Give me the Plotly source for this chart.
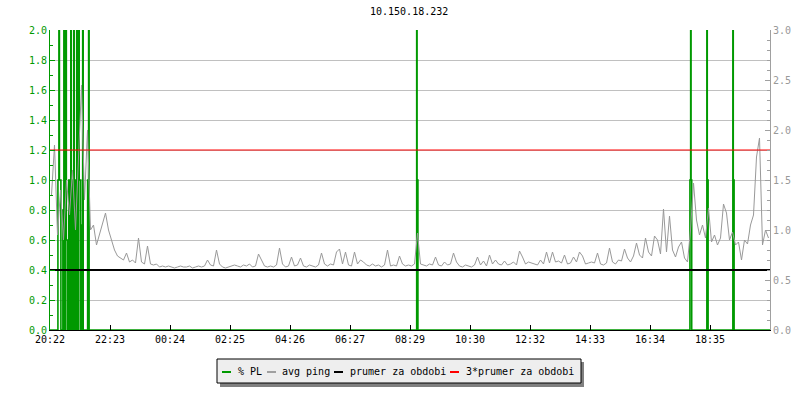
import numpy as np
import plotly.graph_objects as go

# ---------------- data ----------------
chart_title = "10.150.18.232"
x_tick_labels = ["20:22", "22:23", "00:24", "02:25", "04:26", "06:27",
                 "08:29", "10:30", "12:32", "14:33", "16:34", "18:35"]
span_minutes = 1454          # 20:22 -> ~20:36 next day
tick_step = span_minutes / 12

# average ping (right axis), one sample every ~6 minutes
ping_ms = [
    1.35, 1.85, 0.95, 1.40, 0.90, 1.50, 1.15, 1.60, 1.00, 1.75, 2.45, 1.30, 2.00, 1.00,
    1.05, 0.85, 0.95, 1.05, 1.17, 1.00, 0.90, 0.80, 0.74, 0.72, 0.70, 0.77, 0.68, 0.70,
    0.67, 0.92, 0.68, 0.66, 0.84, 0.66, 0.65, 0.66, 0.63, 0.64, 0.63, 0.64, 0.63, 0.62,
    0.63, 0.64, 0.63, 0.63, 0.64, 0.62, 0.63, 0.64, 0.63, 0.64, 0.70, 0.65, 0.64, 0.80,
    0.66, 0.63, 0.62, 0.63, 0.64, 0.65, 0.64, 0.63, 0.65, 0.64, 0.66, 0.63, 0.64, 0.76,
    0.70, 0.64, 0.63, 0.64, 0.63, 0.65, 0.82, 0.66, 0.63, 0.64, 0.73, 0.64, 0.65, 0.72,
    0.64, 0.63, 0.65, 0.64, 0.63, 0.65, 0.77, 0.66, 0.64, 0.66, 0.65, 0.78, 0.81, 0.66,
    0.78, 0.65, 0.64, 0.78, 0.66, 0.70, 0.68, 0.65, 0.64, 0.66, 0.64, 0.65, 0.63, 0.65,
    0.80, 0.64, 0.65, 0.64, 0.74, 0.66, 0.64, 0.65, 0.64, 0.66, 0.97, 0.66, 0.65, 0.64,
    0.66, 0.65, 0.73, 0.65, 0.64, 0.68, 0.65, 0.66, 0.77, 0.68, 0.64, 0.63, 0.65, 0.64,
    0.63, 0.65, 0.73, 0.65, 0.69, 0.64, 0.75, 0.66, 0.70, 0.66, 0.65, 0.69, 0.65, 0.66,
    0.68, 0.65, 0.79, 0.73, 0.66, 0.68, 0.67, 0.66, 0.65, 0.70, 0.66, 0.78, 0.67, 0.78,
    0.68, 0.69, 0.67, 0.75, 0.66, 0.67, 0.73, 0.68, 0.78, 0.74, 0.66, 0.67, 0.68, 0.67,
    0.77, 0.66, 0.65, 0.67, 0.82, 0.68, 0.66, 0.70, 0.69, 0.81, 0.72, 0.68, 0.74, 0.87,
    0.75, 0.72, 0.92, 0.78, 0.74, 0.94, 0.90, 0.76, 1.21, 0.78, 1.14, 0.80, 0.73, 0.83,
    0.88, 0.72, 0.68, 1.00, 1.47, 1.10, 0.95, 1.05, 0.92, 1.22, 0.88, 0.95, 0.85, 0.92,
    1.26, 1.17, 0.90, 0.98, 0.85, 0.88, 0.70, 0.90, 0.86, 1.05, 1.15, 1.73, 1.92, 0.85,
    1.00, 0.92,
]

# packet loss (left axis), step changes: minute from start -> % value
pl_minutes = [0, 16, 18, 19, 22, 26, 28, 29, 32, 33, 36, 38, 40, 42, 43, 44, 46, 48, 49,
              52, 54, 55, 58, 59, 62, 64, 66, 67, 76, 78, 79,
              740.5, 741.3, 743,
              1292.3, 1293.8, 1294.6, 1295.9,
              1326.5, 1327.3, 1329,
              1379, 1379.8, 1381.5,
              1454]
pl_percent = [0, 1, 3, 1, 0, 0.8, 3, 0, 3, 0.6, 0, 1, 0, 3, 0.5, 0, 1, 3, 0,
              1, 3, 0, 3, 1, 0, 0.7, 3, 0, 1, 3, 0,
              3, 1, 0,
              1, 3, 1, 0,
              3, 1, 0,
              3, 1, 0,
              0]

avg_ping = 0.6   # "prumer za obdobi"

# ---------------- colours / helpers ----------------
GREEN = "#009900"
GRAY = "#999999"
GRID = "#c0c0c0"
FONT = "DejaVu Sans Mono"

L, R, T, B = 50, 770, 30, 330


def px(x):
    return (x - L) / (R - L)


def py(y):
    return (B - y) / (B - T)


ping_step = span_minutes / len(ping_ms)
ping_times = np.arange(len(ping_ms)) * ping_step + ping_step / 2

fig = go.Figure()
fig.add_trace(go.Scatter(x=pl_minutes, y=pl_percent, mode="lines", line_shape="hv",
                         line=dict(color=GREEN, width=1.6), name="% PL", yaxis="y"))
fig.add_trace(go.Scatter(x=ping_times, y=ping_ms, mode="lines",
                         line=dict(color=GRAY, width=1), name="avg ping", yaxis="y2"))
fig.add_trace(go.Scatter(x=[0, span_minutes], y=[avg_ping, avg_ping], mode="lines",
                         line=dict(color="black", width=2), name="prumer za obdobi", yaxis="y2"))
fig.add_trace(go.Scatter(x=[0, span_minutes], y=[3 * avg_ping, 3 * avg_ping], mode="lines",
                         line=dict(color="red", width=1), name="3*prumer za obdobi", yaxis="y2"))

fig.update_layout(
    template="none",
    width=800, height=400,
    margin=dict(l=L, r=800 - R, t=T, b=400 - B, pad=0, autoexpand=False),
    plot_bgcolor="white", paper_bgcolor="white",
    showlegend=False,
    font=dict(family=FONT, size=10, color="black"),
    xaxis=dict(range=[0, span_minutes], automargin=False,
               tickmode="array",
               tickvals=[i * tick_step for i in range(len(x_tick_labels))],
               ticktext=x_tick_labels,
               ticks="inside", ticklen=5, tickcolor="black",
               showline=True, linecolor="black", linewidth=1,
               showgrid=False, zeroline=False,
               tickfont=dict(family=FONT, size=10, color="black")),
    yaxis=dict(range=[0, 2], tick0=0, dtick=0.2, tickformat=".1f", automargin=False,
               ticks="inside", ticklen=5, tickcolor=GREEN,
               showline=True, linecolor=GREEN, linewidth=1,
               showgrid=True, gridcolor=GRID, gridwidth=1, zeroline=False,
               tickfont=dict(family=FONT, size=10, color=GREEN),
               minor=dict(dtick=0.1, ticks="inside", ticklen=3, tickcolor=GREEN, showgrid=False)),
    yaxis2=dict(range=[0, 3], tick0=0, dtick=0.5, tickformat=".1f", automargin=False,
                overlaying="y", side="right",
                ticks="inside", ticklen=5, tickcolor="#a0a0a0",
                showline=True, linecolor="#a0a0a0", linewidth=1,
                showgrid=False, zeroline=False,
                tickfont=dict(family=FONT, size=10, color=GRAY),
                minor=dict(dtick=0.1, ticks="inside", ticklen=3, tickcolor="#a0a0a0", showgrid=False)),
)

# title
fig.add_annotation(text=chart_title, xref="paper", yref="paper", x=px(409), y=py(12),
                   showarrow=False, xanchor="center", yanchor="middle",
                   font=dict(family=FONT, size=10, color="black"))

# manual legend box with shadow
shapes = [
    dict(type="rect", xref="paper", yref="paper", x0=px(220), x1=px(584), y0=py(362), y1=py(387),
         fillcolor="#808080", line=dict(width=0), layer="above"),
    dict(type="rect", xref="paper", yref="paper", x0=px(217), x1=px(581), y0=py(359), y1=py(383),
         fillcolor="#eeeeee", line=dict(color="black", width=1), layer="above"),
]
legend_items = [
    (GREEN, "% PL", 222, 236),
    ("#a0a0a0", "avg ping", 267, 280),
    ("black", "prumer za obdobi", 334, 348),
    ("red", "3*prumer za obdobi", 450, 464),
]
for col, txt, lx, tx in legend_items:
    shapes.append(dict(type="line", xref="paper", yref="paper", x0=px(lx), x1=px(lx + 9),
                       y0=py(372), y1=py(372), line=dict(color=col, width=2), layer="above"))
    fig.add_annotation(text=txt, xref="paper", yref="paper", x=px(tx), y=py(371),
                       showarrow=False, xanchor="left", yanchor="middle",
                       font=dict(family=FONT, size=10, color="black"))
fig.update_layout(shapes=shapes)

fig.write_html("out.html", config={"displayModeBar": False},
               post_script="document.body.style.margin='0px';")
